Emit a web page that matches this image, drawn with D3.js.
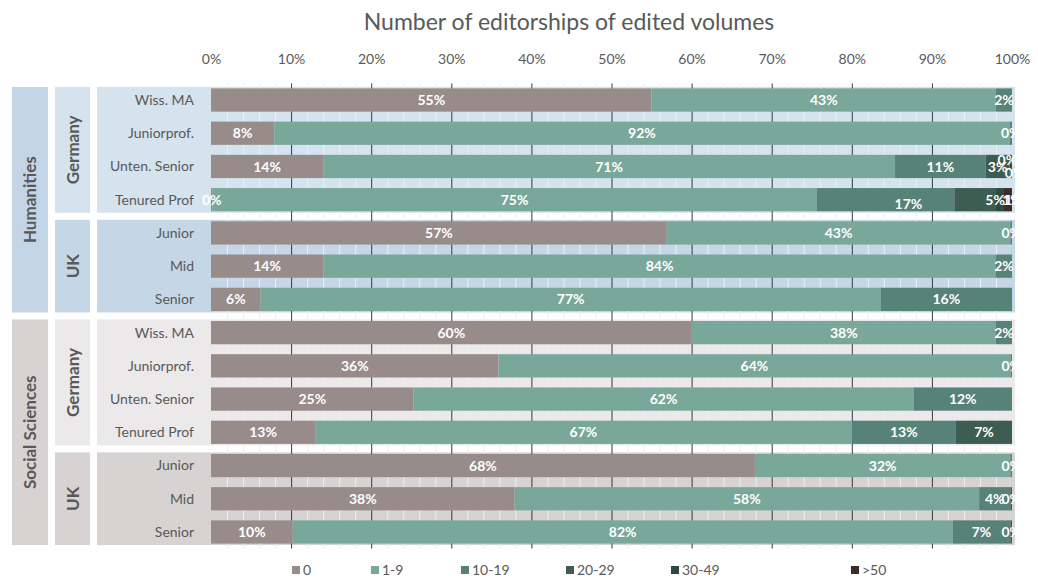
<!DOCTYPE html>
<html><head><meta charset="utf-8">
<script src="https://cdn.jsdelivr.net/npm/d3@7"></script>
<style>body{margin:0;background:#fff}svg{display:block;font-family:Lato,"Open Sans",sans-serif}</style>
</head><body><svg id="chart" width="1038" height="579"></svg>
<script>
const title = "Number of editorships of edited volumes";
const rowLabels = ["Wiss. MA","Juniorprof.","Unten. Senior","Tenured Prof","Junior","Mid","Senior",
                   "Wiss. MA","Juniorprof.","Unten. Senior","Tenured Prof","Junior","Mid","Senior"];
const countryGroups = [
  {name:"Germany", first:0, last:3, discipline:"Humanities"},
  {name:"UK", first:4, last:6, discipline:"Humanities"},
  {name:"Germany", first:7, last:10, discipline:"Social Sciences"},
  {name:"UK", first:11, last:13, discipline:"Social Sciences"}
];
const disciplines = [
  {name:"Humanities", first:0, last:6},
  {name:"Social Sciences", first:7, last:13}
];
const seriesNames = ["0","1-9","10-19","20-29","30-49",">50"];
const v0    = [55, 7.9, 14.0, 0.2, 56.9, 14, 6.2, 60, 35.9, 25.3, 13, 67.9, 37.9, 10.2];
const v1_9  = [43, 91.8, 71.4, 75.4, 42.9, 84, 77.4, 38, 63.9, 62.4, 67, 31.9, 58, 82.4];
const v10_19= [2, 0.3, 11.3, 17.2, 0.2, 2, 16.4, 2, 0.2, 12.3, 13, 0.2, 3.9, 7.2];
const v20_29= [null, null, 3.0, 5.2, null, null, null, null, null, null, 7, null, 0.2, 0.2];
const v30_49= [null, null, 0.2, 1.0, null, null, null, null, null, null, null, null, null, null];
const v50   = [null, null, 0.1, 1.0, null, null, null, null, null, null, null, null, null, null];
const tickValues = [0,10,20,30,40,50,60,70,80,90,100];

// manual label nudges (as in the original, where crowded labels were moved): "row-series": [dx, dy]
const labelNudge = {"2-4":[-3,-7], "2-5":[3,6], "3-2":[23,4], "3-3":[20,0], "3-4":[12,0], "3-5":[6,0]};

const seriesColors = ["#988c8a","#79a89b","#578277","#3d5c52","#2d4a42","#3e2c27"];
const bgColors = {"Humanities":"#c3d5e6","Social Sciences":"#d7d3d2"};
const groupColors = ["#d5e3ef","#c5d6e6","#ebe9e9","#d7d3d2"];
const textColor = "#595959";

const allSeries = [v0, v1_9, v10_19, v20_29, v30_49, v50];
const rows = rowLabels.map((l,i)=>{
  const r = {idx:i, label:l};
  seriesNames.forEach((s,k)=>r[s]=allSeries[k][i]);
  return r;
});

const svg = d3.select("#chart");
const x = d3.scaleLinear().domain([0,100]).range([211,1012]);
const y = d3.scaleBand().domain(d3.range(rows.length)).range([83.4,548.6]).paddingInner(0.3).paddingOuter(0.15);
const step = y.step();
const bandTop = i => y(i) - y.paddingInner()*step/2;
const bandBot = i => y(i) + y.bandwidth() + y.paddingInner()*step/2;
const inset = 3.5;

// title
svg.append("text").attr("x",569).attr("y",30).attr("text-anchor","middle")
  .attr("font-size",23).attr("fill",textColor).text(title);

// discipline columns
disciplines.forEach(d=>{
  const t = bandTop(d.first)+inset, b = bandBot(d.last)-inset;
  svg.append("rect").attr("x",12).attr("y",t).attr("width",36).attr("height",b-t).attr("fill",bgColors[d.name]);
  svg.append("text").attr("transform",`translate(36,${(t+b)/2}) rotate(-90)`)
    .attr("text-anchor","middle").attr("font-size",17).attr("font-weight","bold").attr("fill",textColor).text(d.name);
});
// country groups + plot backgrounds
countryGroups.forEach((g,k)=>{
  const t = bandTop(g.first)+inset, b = bandBot(g.last)-inset;
  svg.append("rect").attr("x",55).attr("y",t).attr("width",35).attr("height",b-t).attr("fill",groupColors[k]);
  svg.append("rect").attr("x",97).attr("y",t).attr("width",1015-97).attr("height",b-t).attr("fill",groupColors[k]);
  svg.append("text").attr("transform",`translate(79,${(t+b)/2}) rotate(-90)`)
    .attr("text-anchor","middle").attr("font-size",17).attr("font-weight","bold").attr("fill",textColor).text(g.name);
});

// gridlines
const y0 = 83.4, y1 = 548.6;
svg.append("g").selectAll("line").data(d3.range(2,100,2).filter(v=>v%10!==0)).join("line")
  .attr("x1",d=>x(d)+0.5).attr("x2",d=>x(d)+0.5).attr("y1",y0).attr("y2",y1)
  .attr("stroke","#efefef").attr("stroke-width",1);
svg.append("g").selectAll("line").data(tickValues.filter(v=>v>0&&v<100)).join("line")
  .attr("x1",d=>x(d)+0.5).attr("x2",d=>x(d)+0.5).attr("y1",y0).attr("y2",y1)
  .attr("stroke","#3a3a3a").attr("stroke-width",1);

// top axis
const axis = svg.append("g").attr("transform","translate(0,67)")
  .call(d3.axisTop(x).tickValues(tickValues).tickFormat(d=>d+"%").tickSize(0));
axis.select(".domain").remove();
axis.selectAll("text").attr("font-size",14).attr("fill",textColor).attr("font-family","Lato,sans-serif").attr("dy",0);

// row labels
svg.append("g").selectAll("text").data(rows).join("text")
  .attr("x",194).attr("y",d=>y(d.idx)+y.bandwidth()/2).attr("dy","0.35em")
  .attr("text-anchor","end").attr("font-size",14).attr("fill",textColor).text(d=>d.label);

// stacked bars
const stack = d3.stack().keys(seriesNames).value((d,k)=>d[k]==null?0:d[k]);
const stacked = stack(rows);
const barG = svg.append("g");
stacked.forEach((layer,k)=>{
  barG.append("g").attr("fill",seriesColors[k]).selectAll("rect").data(layer).join("rect")
    .attr("x",d=>x(d[0])).attr("width",d=>x(d[1])-x(d[0]))
    .attr("y",(d,i)=>y(i)).attr("height",y.bandwidth());
});
// labels
svg.append("clipPath").attr("id","clip").append("rect").attr("x",0).attr("y",0).attr("width",1017).attr("height",579);
const lblG = svg.append("g").attr("clip-path","url(#clip)");
const nudge = (d,k) => labelNudge[d.data.idx+"-"+k] || [0,0];
stacked.forEach((layer,k)=>{
  lblG.append("g").selectAll("text").data(layer.filter(d=>d.data[seriesNames[k]]!=null)).join("text")
    .attr("x",d=>(x(d[0])+x(d[1]))/2 + nudge(d,k)[0])
    .attr("y",d=>y(d.data.idx)+y.bandwidth()/2 + nudge(d,k)[1]).attr("dy","0.36em")
    .attr("text-anchor","middle").attr("font-size",14).attr("font-weight","bold").attr("fill","#fff")
    .text(d=>Math.round(d.data[seriesNames[k]])+"%");
});

// legend
const legendX = [292, 371, 461, 566, 671, 851];
const lg = svg.append("g");
seriesNames.forEach((s,k)=>{
  lg.append("rect").attr("x",legendX[k]).attr("y",566).attr("width",8).attr("height",8).attr("fill",seriesColors[k]);
  lg.append("text").attr("x",legendX[k]+11).attr("y",570).attr("dy","0.35em").attr("font-size",14).attr("fill",textColor).text(s);
});
</script></body></html>
